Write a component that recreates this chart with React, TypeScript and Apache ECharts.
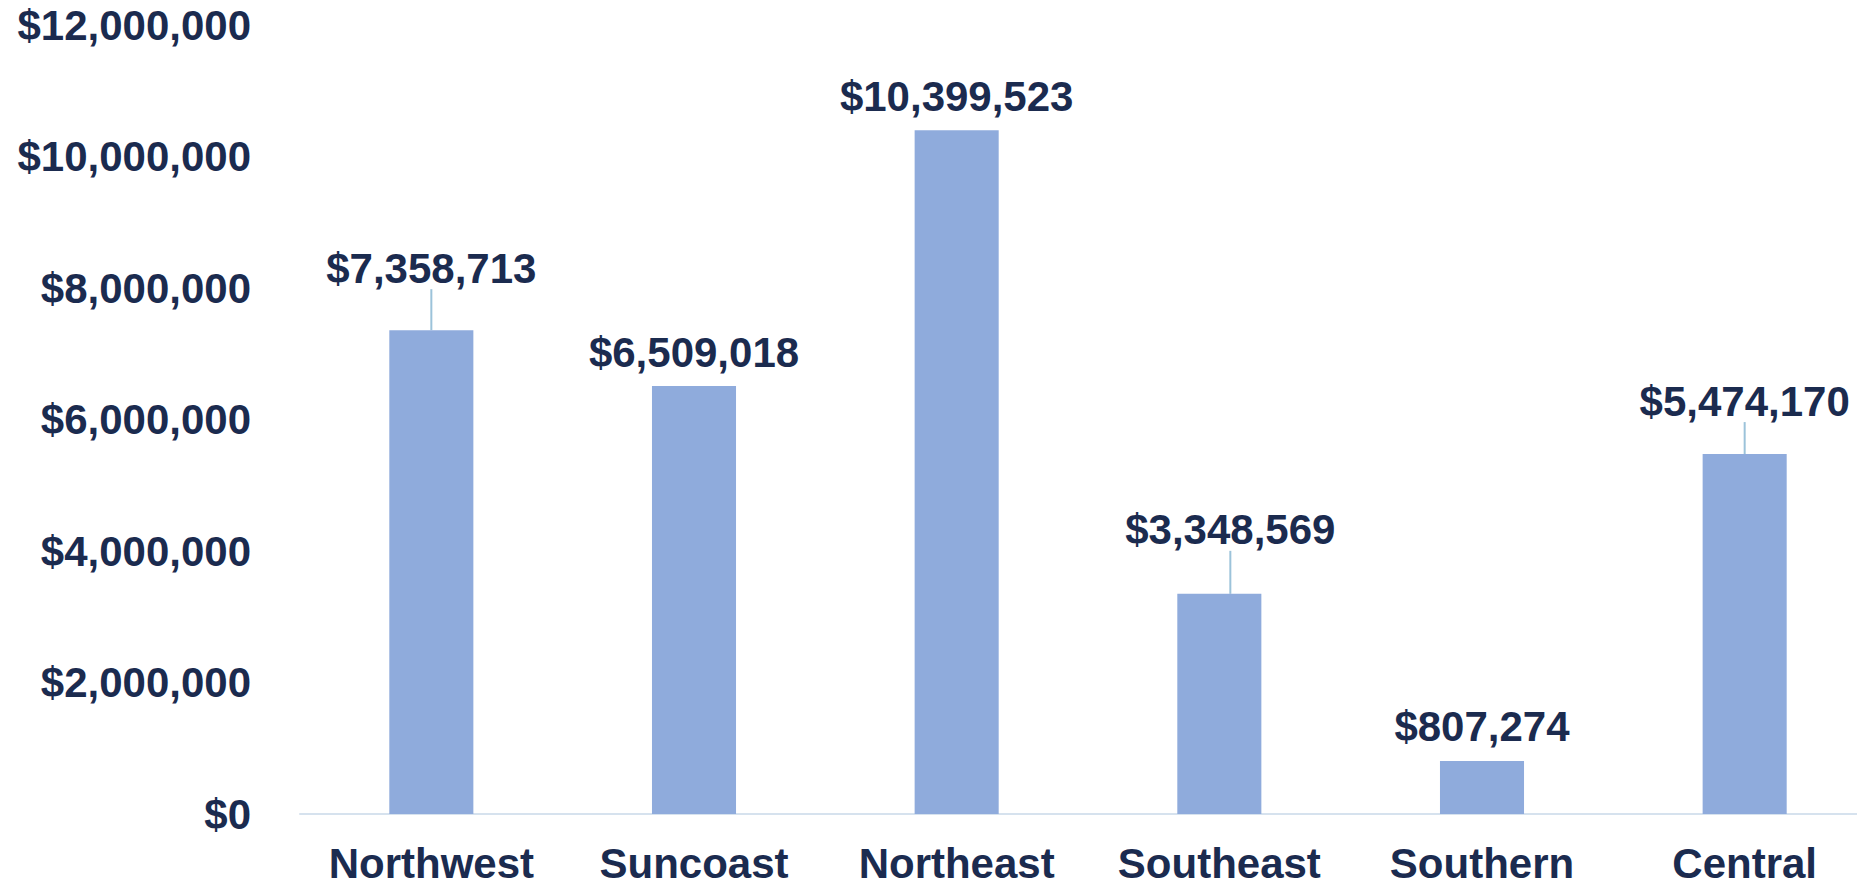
import React, { useEffect, useRef } from "react";
import * as echarts from "echarts";

const categories = ["Northwest", "Suncoast", "Northeast", "Southeast", "Southern", "Central"];
const values = [7358713, 6509018, 10399523, 3348569, 807274, 5474170];
const yTicks = [0, 2000000, 4000000, 6000000, 8000000, 10000000, 12000000];

const TEXT = "#1B2B4F";
const FONT = "'Liberation Sans', Arial, sans-serif";

const labelShift: Record<number, { dx: number; dy: number }> = {
  0: { dx: 0, dy: -28 },
  3: { dx: 11, dy: -30 },
  5: { dx: 0, dy: -19 },
};

const fmt = (v: number) => "$" + v.toLocaleString("en-US");

export default function App() {
  const ref = useRef<HTMLDivElement>(null);
  useEffect(() => {
    document.body.style.margin = "0";
    const chart = echarts.init(ref.current!, null, { renderer: "svg" });
    const data = values.map((v, i) => ({
      value: v,
      labelLine: { show: !!labelShift[i] },
    }));
    chart.setOption({
      animation: false,
      grid: { left: 300, right: 0, top: 25, bottom: 72 },
      xAxis: {
        type: "category",
        data: categories,
        axisLine: { lineStyle: { color: "#D6E2EE", width: 2 } },
        axisTick: { show: false },
        axisLabel: {
          color: TEXT,
          fontSize: 42,
          fontWeight: "bold",
          fontFamily: FONT,
          margin: 28,
          lineHeight: 42,
          interval: 0,
        },
      },
      yAxis: {
        type: "value",
        min: yTicks[0],
        max: yTicks[yTicks.length - 1],
        interval: 2000000,
        splitLine: { show: false },
        axisLine: { show: false },
        axisTick: { show: false },
        axisLabel: {
          color: TEXT,
          fontSize: 42,
          fontWeight: "bold",
          fontFamily: FONT,
          margin: 49,
          formatter: (v: number) => fmt(v),
        },
      },
      series: [
        {
          type: "bar",
          data,
          barWidth: "32%",
          itemStyle: { color: "#8FABDC" },
          label: {
            show: true,
            position: "top",
            distance: 13,
            color: TEXT,
            fontSize: 42,
            fontWeight: "bold",
            fontFamily: FONT,
            formatter: (p: any) => fmt(p.value),
          },
          labelLine: { show: false, lineStyle: { color: "#9CC3DA", width: 2 } },
          labelLayout: (p: any) => {
            const s = labelShift[p.dataIndex];
            return s ? { dx: s.dx, dy: s.dy } : {};
          },
        },
      ],
    });
    return () => chart.dispose();
  }, []);
  return (
    <div style={{ width: 1857, height: 886, overflow: "hidden" }}>
      <div ref={ref} style={{ width: 1876, height: 886 }} />
    </div>
  );
}
